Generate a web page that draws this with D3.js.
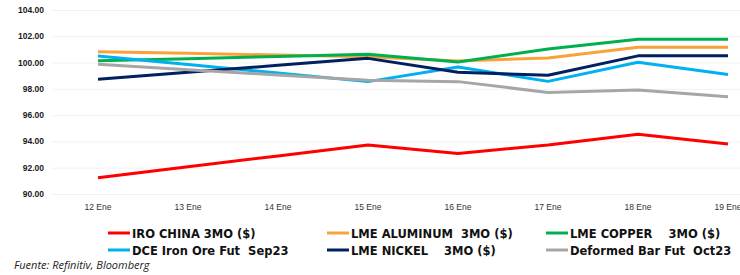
<!DOCTYPE html>
<html>
<head>
<meta charset="utf-8">
<script src="https://cdn.jsdelivr.net/npm/d3@7"></script>
<style>
  body { margin: 0; background: #fff; }
  svg { display: block; }
  text { white-space: pre; }
</style>
</head>
<body>
<div id="chart"></div>
<script>
const dates = ["12 Ene", "13 Ene", "14 Ene", "15 Ene", "16 Ene", "17 Ene", "18 Ene", "19 Ene"];
const yTicks = [90, 92, 94, 96, 98, 100, 102, 104];

const iroChina   = [91.24, 92.07, 92.90, 93.73, 93.09, 93.73, 94.54, 93.80];
const lmeAlum    = [100.83, 100.70, 100.57, 100.45, 100.12, 100.35, 101.16, 101.16];
const lmeCopper  = [100.14, 100.30, 100.47, 100.63, 100.04, 101.03, 101.77, 101.77];
const dceIronOre = [100.50, 99.85, 99.20, 98.55, 99.66, 98.57, 100.03, 99.09];
const lmeNickel  = [98.73, 99.26, 99.79, 100.32, 99.27, 99.03, 100.51, 100.51];
const deformBar  = [99.87, 99.46, 99.06, 98.65, 98.55, 97.73, 97.91, 97.40];

const series = [
    {name: "IRO CHINA 3MO ($)",        values: iroChina,   color: "#ff0000"},
    {name: "LME ALUMINUM  3MO ($)",    values: lmeAlum,    color: "#f9a23a"},
    {name: "LME COPPER    3MO ($)",    values: lmeCopper,  color: "#00b050"},
    {name: "DCE Iron Ore Fut  Sep23",  values: dceIronOre, color: "#00b0f0"},
    {name: "LME NICKEL    3MO ($)",    values: lmeNickel,  color: "#002060"},
    {name: "Deformed Bar Fut  Oct23",  values: deformBar,  color: "#a6a6a6"}
];

const width = 740, height = 275;
const svg = d3.select("#chart").append("svg")
    .attr("width", width).attr("height", height);

// category axis, 90px per band; the last band runs past the right edge
const x = d3.scalePoint().domain(dates).range([98, 728]);
const y = d3.scaleLinear().domain([90, 104]).range([194, 10]);

// faint gridlines
svg.append("g")
    .selectAll("line")
    .data(yTicks)
    .enter().append("line")
    .attr("x1", 52).attr("x2", width)
    .attr("y1", d => y(d) + 0.5).attr("y2", d => y(d) + 0.5)
    .attr("stroke", "#f2f2f2")
    .attr("stroke-width", 1);

// y labels
svg.append("g")
    .selectAll("text")
    .data(yTicks)
    .enter().append("text")
    .attr("x", 44)
    .attr("y", d => y(d) + 3)
    .attr("text-anchor", "end")
    .attr("font-family", "Liberation Sans, Arial, sans-serif")
    .attr("font-weight", "bold")
    .attr("font-size", "8.5px")
    .attr("fill", "#1a1a1a")
    .text(d => d3.format(".2f")(d));

// x labels
svg.append("g")
    .selectAll("text")
    .data(dates)
    .enter().append("text")
    .attr("x", d => x(d))
    .attr("y", 210)
    .attr("text-anchor", "middle")
    .attr("font-family", "Liberation Sans, Arial, sans-serif")
    .attr("font-size", "8.5px")
    .attr("fill", "#333")
    .text(d => d);

const line = d3.line()
    .x((d, i) => x(dates[i]))
    .y(d => y(d));

svg.append("g")
    .selectAll("path")
    .data(series)
    .enter().append("path")
    .attr("d", d => line(d.values))
    .attr("fill", "none")
    .attr("stroke", d => d.color)
    .attr("stroke-width", 3)
    .attr("stroke-linejoin", "round");

// legend: 3 columns x 2 rows
const legCols = [108, 327, 546];
const legRows = [233, 250];
const leg = svg.append("g")
    .selectAll("g")
    .data(series)
    .enter().append("g")
    .attr("transform", (d, i) => "translate(" + legCols[i % 3] + "," + legRows[Math.floor(i / 3)] + ")");

leg.append("line")
    .attr("x1", 0).attr("x2", 22)
    .attr("stroke", d => d.color)
    .attr("stroke-width", 3);

leg.append("text")
    .attr("x", 24)
    .attr("y", 4.5)
    .attr("font-family", "DejaVu Sans, Verdana, sans-serif")
    .attr("font-weight", "bold")
    .attr("font-size", "11.5px")
    .attr("fill", "#111")
    .text(d => d.name);

svg.append("text")
    .attr("x", 14)
    .attr("y", 269)
    .attr("font-family", "Open Sans, sans-serif")
    .attr("font-style", "italic")
    .attr("font-size", "11px")
    .attr("fill", "#222")
    .text("Fuente: Refinitiv, Bloomberg");
</script>
</body>
</html>
